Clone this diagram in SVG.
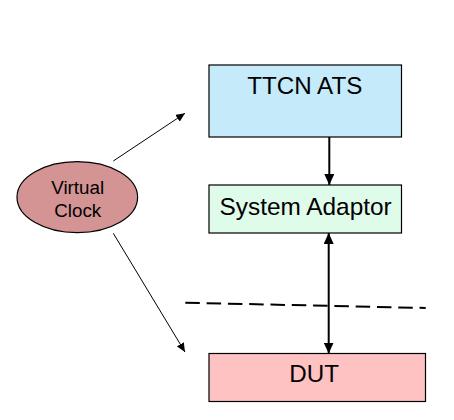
<svg xmlns="http://www.w3.org/2000/svg" width="454" height="420" viewBox="0 0 454 420">
<style>
.box{stroke:#000;stroke-width:1.2}
.lbl{font-family:"Liberation Sans",Arial,sans-serif;fill:#000;text-anchor:middle}
.thin{stroke:#000;stroke-width:1;fill:none}
.thick{stroke:#000;stroke-width:2;fill:none}
</style>
<defs>
<marker id="ah" viewBox="0 0 9 8" refX="9" refY="4" markerWidth="9" markerHeight="8" markerUnits="userSpaceOnUse" orient="auto-start-reverse">
<path d="M0,0 L9,4 L0,8 Z" fill="#000"/>
</marker>
<marker id="ahb" viewBox="0 0 11 10" refX="11" refY="5" markerWidth="11" markerHeight="10" markerUnits="userSpaceOnUse" orient="auto-start-reverse">
<path d="M0,0 L11,5 L0,10 Z" fill="#000"/>
</marker>
</defs>
<rect width="454" height="420" fill="#fff"/>
<g id="ttcn">
<rect class="box" x="209" y="65" width="192.5" height="72" fill="#c5ebfb"/>
<text class="lbl" x="304.8" y="93.5" font-size="24.2">TTCN ATS</text>
</g>
<g id="adaptor">
<rect class="box" x="209" y="185" width="192.5" height="48" fill="#dffbe9"/>
<text class="lbl" x="305.6" y="214.5" font-size="24.4">System Adaptor</text>
</g>
<g id="dut">
<rect class="box" x="209" y="353.5" width="216.5" height="48" fill="#ffc2c2"/>
<text class="lbl" x="314.2" y="382" font-size="24.2">DUT</text>
</g>
<g id="clock">
<ellipse class="box" cx="77.3" cy="197.2" rx="60.3" ry="35.5" fill="#d49494"/>
<text class="lbl" x="77.7" y="194.3" font-size="18.8">Virtual</text>
<text class="lbl" x="77.7" y="216.7" font-size="18.8">Clock</text>
</g>
<g id="connectors">
<line class="thin" x1="113.3" y1="161" x2="185" y2="113.3" marker-end="url(#ah)"/>
<line class="thin" x1="113.3" y1="233.3" x2="185" y2="352" marker-end="url(#ah)"/>
<line class="thick" x1="329.3" y1="137" x2="329.3" y2="185" marker-end="url(#ahb)"/>
<line class="thick" x1="328.7" y1="233" x2="328.7" y2="353.5" marker-start="url(#ahb)" marker-end="url(#ahb)"/>
<line class="thick" x1="185.3" y1="302.7" x2="425.7" y2="308" stroke-dasharray="14.5,6.8"/>
</g>
</svg>
